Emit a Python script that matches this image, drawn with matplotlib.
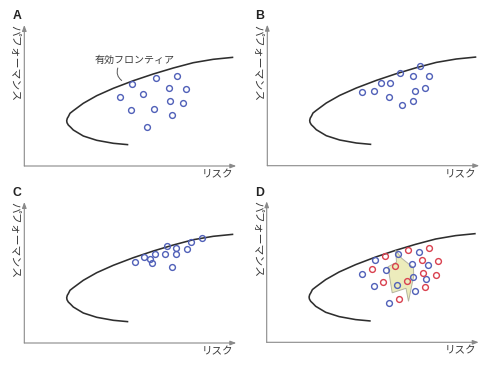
import matplotlib
matplotlib.use('Agg')
import matplotlib.pyplot as plt
from matplotlib.patches import Polygon

plt.rcParams['font.family'] = ['Noto Sans CJK JP', 'DejaVu Sans']

# ── data (risk / performance) ──
frontier_risk = [209, 189, 169, 149, 129, 109, 89, 72.4, 59, 49, 45.7, 44, 43, 42.4,
                 42.7, 44, 46.4, 49, 59, 72.4, 89, 104]
frontier_perf = [108.7, 106.7, 103.3, 98, 92, 85.3, 77.7, 70.3, 62.7, 55.3, 52.7, 49.3,
                 47.7, 45.3, 43.3, 41, 38.7, 36, 30, 25.7, 22.7, 21.3]

a_risk = [108, 131.4, 152.4, 95.7, 118.4, 145, 161.7, 145.7, 159, 106.7, 129.7, 148, 122.4]
a_perf = [82.3, 87.7, 90.3, 68.7, 72.3, 77.7, 76.7, 65.3, 63.3, 56, 57.3, 50.7, 39.3]

b_risk = [94.7, 106.7, 113.7, 123, 121.4, 132.7, 145.4, 153, 161.4, 147.4, 158, 134.7, 145.7]
b_perf = [73.7, 74.4, 82.7, 83, 68.7, 93, 89.7, 99.4, 90, 74.4, 77.4, 60.4, 64.7]

c_risk = [110.4, 120, 125.7, 128, 130.7, 140.7, 143, 151.4, 152, 147.4, 162.7, 166.4, 177.7]
c_perf = [80.7, 85.7, 84, 79.7, 89, 89.3, 96.7, 94.7, 88.7, 75.7, 93.7, 101, 105.3]

d_blue_risk = [95.6, 108.3, 119, 131.6, 145, 152.3, 161.6, 146, 159.3, 130.3, 107, 148.3, 122.6]
d_blue_perf = [68.6, 82.3, 72.6, 88, 78, 90.6, 77, 65.3, 63.6, 57.3, 56, 51, 39]
d_red_risk = [118, 105.3, 128.6, 141.3, 155, 162.3, 171.6, 156, 169, 140, 116.6, 158, 132.3]
d_red_perf = [86.3, 73, 76.3, 92, 82, 94.6, 81, 69.3, 67.3, 61.3, 60, 55, 43.3]

region_risk = [129, 135, 146.8, 147, 141.8, 139.3, 125.5, 121.3, 129.8]
region_perf = [92, 84, 74.5, 66.3, 41, 54, 49.5, 75.5, 80]

W, H = 500, 366
BLUE = '#5060b8'
RED = '#d9414f'
AXIS = '#8a8a8a'
CURVE = '#2e2e2e'
TEXT = '#3a3a3a'

fig = plt.figure(figsize=(W / 100, H / 100), dpi=100)
fig.patch.set_facecolor('white')


def make_panel(ox, oy, letter, lx, ly):
    ax = fig.add_axes([ox / W, (H - oy) / H, 215 / W, 142 / H])
    ax.set_xlim(0, 215)
    ax.set_ylim(0, 142)
    ax.axis('off')
    arrow = dict(arrowstyle='-|>,head_length=0.35,head_width=0.13', color=AXIS,
                 lw=0.8, shrinkA=0, shrinkB=0)
    ax.annotate('', xy=(212, 0), xytext=(0, 0), arrowprops=arrow, annotation_clip=False)
    ax.annotate('', xy=(0, 141), xytext=(0, 0), arrowprops=arrow, annotation_clip=False)
    ax.plot(frontier_risk, frontier_perf, color=CURVE, lw=1.15, solid_capstyle='butt', zorder=2)
    ax.text(209, -8.5, 'リスク', ha='right', va='center', fontsize=7.6,
            color=TEXT, clip_on=False)
    ax.text(-9.8, 141, 'パフォーマンス', rotation=-90, ha='center', va='top',
            fontsize=7.8, color=TEXT, clip_on=False)
    fig.text(lx / W, 1 - ly / H, letter, fontweight='bold', family='Liberation Sans',
             fontsize=8.8, va='baseline', ha='left', color='#222222')
    return ax


def dots(ax, xs, ys, color):
    ax.plot(xs, ys, ls='none', marker='o', ms=4.2, mfc='none', mec=color, mew=1.0, zorder=4)


# Panel A
axA = make_panel(24.3, 166, 'A', 12.5, 19.3)
dots(axA, a_risk, a_perf, BLUE)
axA.text(110.7, 106, '有効フロンティア', ha='center', va='center', fontsize=7.2, color=TEXT)
axA.annotate('', xy=(97.4, 85.5), xytext=(93.5, 98),
             arrowprops=dict(arrowstyle='-', color='#555555', lw=0.7,
                             shrinkA=0, shrinkB=0, connectionstyle='arc3,rad=0.35'))

# Panel B
axB = make_panel(267.3, 165.7, 'B', 255, 19.3)
dots(axB, b_risk, b_perf, BLUE)

# Panel C
axC = make_panel(24.3, 343, 'C', 12.5, 195.5)
dots(axC, c_risk, c_perf, BLUE)

# Panel D
axD = make_panel(266.7, 342.3, 'D', 255, 196.5)
axD.add_patch(Polygon(list(zip(region_risk, region_perf)), closed=True,
                      facecolor='#ececbc', edgecolor='#b4b4a0', lw=0.7, zorder=3))
dots(axD, d_blue_risk, d_blue_perf, BLUE)
dots(axD, d_red_risk, d_red_perf, RED)

plt.savefig('out.png', dpi=100, facecolor='white')
